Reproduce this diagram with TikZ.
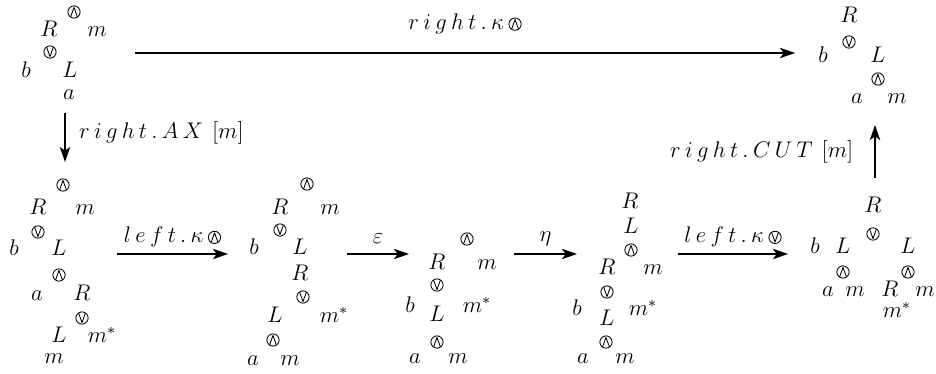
\documentclass[tikz,border=0pt]{standalone}
\usetikzlibrary{arrows.meta}
\newcommand\symow{\tikz[baseline=-2.8pt,x=1pt,y=1pt]{\draw[-,line width=0.45pt] (0,0) circle[radius=3.25pt]; \draw[-,line width=0.45pt,line join=round] (-1.82,-2.69) -- (0,2.45) -- (1.82,-2.69);}}
\newcommand\symov{\tikz[baseline=-2.8pt,x=1pt,y=1pt]{\draw[-,line width=0.45pt] (0,0) circle[radius=3.25pt]; \draw[-,line width=0.45pt,line join=round] (-1.82,2.69) -- (0,-2.45) -- (1.82,2.69);}}
\newcommand\gx{\mskip 3.5mu}
\tikzset{
  tx/.style={inner sep=0pt, text height=1.2ex, text depth=0pt},
  sym/.style={inner sep=0pt},
  lab/.style={inner sep=0pt},
  arr/.style={line width=0.9pt, -{Stealth[length=8pt,width=5.5pt,inset=2pt]}}
}
\begin{document}
\begin{tikzpicture}[x=0.53pt,y=-0.53pt,every node/.style={font=\fontsize{11.5}{13.5}\selectfont}]
\useasboundingbox (0,0) rectangle (936,374);
% top-left
\node[sym] (d0w) at (74,12) {\symow};
\node[tx] (d0R) at (49,32) {$R$};
\node[tx] (d0m) at (97,32) {$m$};
\node[sym] (d0v) at (50,52) {\symov};
\node[tx] (d0b) at (26,73) {$b$};
\node[tx] (d0L) at (70,73) {$L$};
\node[tx] (d0a) at (69,95) {$a$};
% bottom 1
\node[sym] (d1w) at (63,185) {\symow};
\node[tx] (d1R) at (38,210) {$R$};
\node[tx] (d1m) at (85,210) {$m$};
\node[sym] (d1v) at (38,232) {\symov};
\node[tx] (d1b) at (14,251) {$b$};
\node[tx] (d1L) at (59,251) {$L$};
\node[sym] (d1w2) at (59,275) {\symow};
\node[tx] (d1a) at (37,296) {$a$};
\node[tx] (d1R2) at (82,296) {$R$};
\node[sym] (d1v2) at (82,318) {\symov};
\node[tx] (d1L2) at (59,338) {$L$};
\node[tx] (d1ms) at (102,338) {$m^*$};
\node[tx] (d1m2) at (54,359) {$m$};
% bottom 2
\node[sym] (d2w) at (307,184) {\symow};
\node[tx] (d2R) at (280,210) {$R$};
\node[tx] (d2m) at (330,210) {$m$};
\node[sym] (d2v) at (280,230) {\symov};
\node[tx] (d2b) at (254,250) {$b$};
\node[tx] (d2L) at (300,250) {$L$};
\node[tx] (d2R2) at (300,276) {$R$};
\node[sym] (d2v2) at (303,297) {\symov};
\node[tx] (d2L2) at (275,318) {$L$};
\node[tx] (d2ms) at (334,318) {$m^*$};
\node[sym] (d2w2) at (273,340) {\symow};
\node[tx] (d2a) at (253,361) {$a$};
\node[tx] (d2m2) at (290,361) {$m$};
% bottom 3
\node[sym] (d3w) at (467,239) {\symow};
\node[tx] (d3R) at (437,265) {$R$};
\node[tx] (d3m) at (487,265) {$m$};
\node[sym] (d3v) at (437,285) {\symov};
\node[tx] (d3b) at (410,308) {$b$};
\node[tx] (d3ms) at (477,308) {$m^*$};
\node[tx] (d3L) at (437,317) {$L$};
\node[sym] (d3w2) at (437,342) {\symow};
\node[tx] (d3a) at (415,359) {$a$};
\node[tx] (d3m2) at (458,359) {$m$};
% bottom 4
\node[tx] (d4R) at (630,204) {$R$};
\node[tx] (d4L) at (631,229) {$L$};
\node[sym] (d4w) at (631,250) {\symow};
\node[tx] (d4R2) at (607,270) {$R$};
\node[tx] (d4m) at (653,270) {$m$};
\node[sym] (d4v) at (607,292) {\symov};
\node[tx] (d4b) at (577,311) {$b$};
\node[tx] (d4ms) at (643,311) {$m^*$};
\node[tx] (d4L2) at (607,321) {$L$};
\node[sym] (d4w2) at (606,342) {\symow};
\node[tx] (d4a) at (583,359) {$a$};
\node[tx] (d4m2) at (625,359) {$m$};
% bottom 5
\node[tx] (d5R) at (873,208) {$R$};
\node[sym] (d5v) at (873,234) {\symov};
\node[tx] (d5b) at (815,249) {$b$};
\node[tx] (d5L) at (843,249) {$L$};
\node[tx] (d5L2) at (908,249) {$L$};
\node[sym] (d5w) at (843,272) {\symow};
\node[sym] (d5w2) at (908,272) {\symow};
\node[tx] (d5a) at (828,292) {$a$};
\node[tx] (d5m) at (855,292) {$m$};
\node[tx] (d5R2) at (890,292) {$R$};
\node[tx] (d5m2) at (925,292) {$m$};
\node[tx] (d5ms) at (897,313) {$m^*$};
% top-right
\node[tx] (d6R) at (849,18) {$R$};
\node[sym] (d6v) at (849,42) {\symov};
\node[tx] (d6b) at (823,58) {$b$};
\node[tx] (d6L) at (878,58) {$L$};
\node[sym] (d6w) at (878,79) {\symow};
\node[tx] (d6a) at (857,99) {$a$};
\node[tx] (d6m) at (897,99) {$m$};
% arrows
\coordinate (t0s) at (135,53); \coordinate (t0e) at (795,53);
\coordinate (dAs) at (65,113); \coordinate (dAe) at (65,162);
\coordinate (b1s) at (117,254); \coordinate (b1e) at (228,254);
\coordinate (b2s) at (347,254); \coordinate (b2e) at (409,254);
\coordinate (b3s) at (514,254); \coordinate (b3e) at (577,254);
\coordinate (b4s) at (678,254); \coordinate (b4e) at (788,254);
\coordinate (uCs) at (875,178); \coordinate (uCe) at (875,125);
\draw[arr] (t0s) -- (t0e) node[lab,midway,yshift=15.5pt] (l0) {$r\gx i\gx g\gx h\gx t\gx .\gx\kappa\gx\symow$};
\draw[arr] (dAs) -- (dAe) node[lab,midway,anchor=west,xshift=7pt,yshift=2.4pt] (lA) {$r\gx i\gx g\gx h\gx t\gx .\gx A\gx X\gx\gx\bigl[m\bigr]$};
\draw[arr] (b1s) -- (b1e) node[lab,midway,yshift=9pt] (l1) {$l\gx e\gx f\gx t\gx .\gx\kappa\gx\symow$};
\draw[arr] (b2s) -- (b2e) node[lab,midway,yshift=8pt] (l2) {$\varepsilon$};
\draw[arr] (b3s) -- (b3e) node[lab,midway,yshift=8pt] (l3) {$\eta$};
\draw[arr] (b4s) -- (b4e) node[lab,midway,yshift=9pt] (l4) {$l\gx e\gx f\gx t\gx .\gx\kappa\gx\symov$};
\draw[arr] (uCs) -- (uCe) node[lab,midway,anchor=east,xshift=-11pt] (lC) {$r\gx i\gx g\gx h\gx t\gx .\gx C\gx U\gx T\gx\gx\bigl[m\bigr]$};
\end{tikzpicture}
\end{document}
